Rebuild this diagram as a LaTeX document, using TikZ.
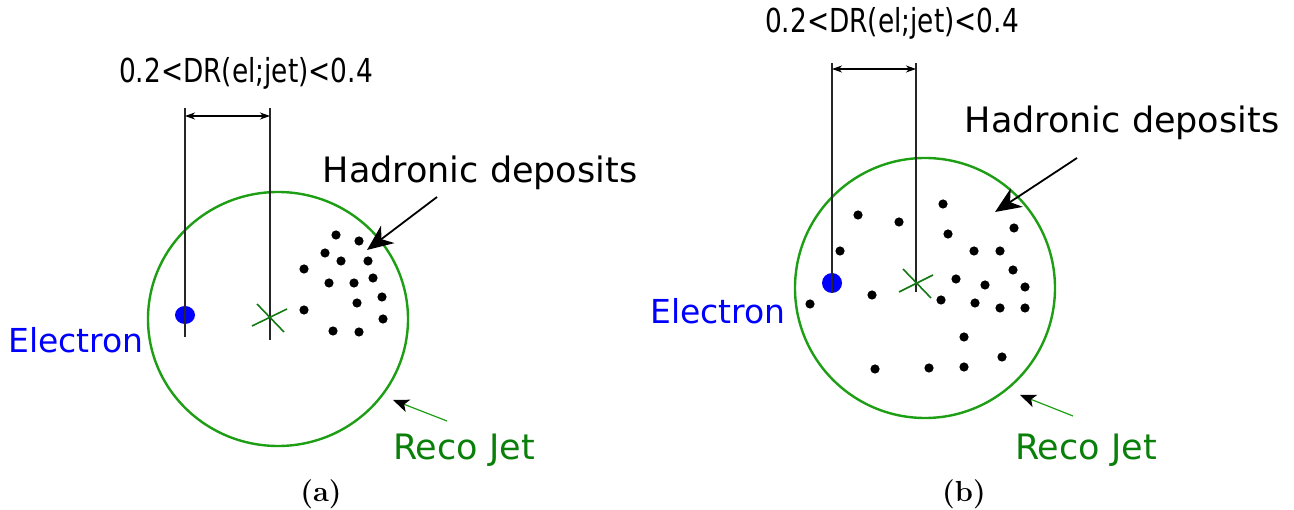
\documentclass[tikz,border=0pt]{standalone}
\usepackage{fontspec}
\usepackage{graphicx}
\newfontfamily\dejavu{DejaVu Sans}
\usetikzlibrary{arrows.meta,positioning}
\definecolor{jetgreen}{RGB}{30,158,20}
\definecolor{recogreen}{RGB}{10,128,10}
\definecolor{crossgreen}{RGB}{20,120,20}
\definecolor{elblue}{RGB}{0,0,255}

\begin{document}
\begin{tikzpicture}[x=1pt,y=-1pt,
    jet/.style={draw=jetgreen,line width=2.4pt},
    guide/.style={black!85,line width=1.1pt},
    dimarrow/.style={black,line width=1.1pt,
      {Stealth[length=10pt,width=7pt,inset=3pt]}-{Stealth[length=10pt,width=7pt,inset=3pt]}},
    pointer/.style={black,line width=1.8pt,-{Stealth[length=26pt,width=22pt,inset=8pt]}},
    recoarrow/.style={jetgreen,line width=1.2pt,-{Stealth[length=16pt,width=13pt,inset=4pt,color=black]}},
    crossmark/.style={crossgreen,line width=1.6pt},
    lbl/.style={font=\dejavu\fontsize{35}{40}\selectfont,anchor=base,inner sep=0pt},
    dimlbl/.style={font=\dejavu\fontsize{33}{38}\selectfont,anchor=base,inner sep=0pt},
    caption/.style={font=\fontsize{29}{34}\selectfont\bfseries,anchor=base,inner sep=0pt}]
  \useasboundingbox (0,0) rectangle (1294,510);

  % ---------- (a) ----------
  \draw[jet] (278,319) ellipse [x radius=130pt, y radius=127pt];
  \coordinate (elA) at (185,315);
  \fill[elblue] (elA) ellipse [x radius=10pt, y radius=9pt];
  % jet axis and electron lines
  \draw[guide] (185,108) -- (185,337);
  \draw[guide] (270,108) -- (270,340);
  \coordinate (dimLA) at (185,116);
  \coordinate (dimRA) at (270,116);
  \draw[dimarrow] (dimLA) -- (dimRA);
  \node[dimlbl] (drA) at (246,83) {\scalebox{0.8}[1]{0.2<DR(el;jet)<0.4}};
  \draw[crossmark] (252,326) -- (287,309) (257,304) -- (284,332);
  % deposits
  \foreach \px/\py in {336/235,359/241,325/253,341/261,368/261,304/269,373/278,
      329/283,354/283,382/297,357/303,304/310,383/319,333/331,359/332}{
    \fill (\px,\py) circle [radius=4.6pt];
  }
  \node[lbl] (hadA) at (480,183) {Hadronic deposits};
  \coordinate (hadTailA) at (437,197);
  \coordinate (hadTipA) at (367,250);
  \draw[pointer] (hadTailA) -- (hadTipA);
  \node[lbl,text=elblue,font=\dejavu\fontsize{33}{38}\selectfont] (elecA) at (76,353) {Electron};
  \node[lbl,text=recogreen] (recoA) at (464,460) {Reco Jet};
  \coordinate (recoTailA) at (447,421);
  \coordinate (recoTipA) at (393,400);
  \draw[recoarrow] (recoTailA) -- (recoTipA);
  \node[caption] (capA) at (321,501) {(a)};

  % ---------- (b) ----------
  \draw[jet] (925,288) circle [radius=130pt];
  \coordinate (elB) at (832,283);
  \fill[elblue] (elB) circle [radius=10pt];
  \draw[guide] (832,63) -- (832,293);
  \draw[guide] (916,63) -- (916,292);
  \coordinate (dimLB) at (832,69);
  \coordinate (dimRB) at (916,69);
  \draw[dimarrow] (dimLB) -- (dimRB);
  \node[dimlbl] (drB) at (892,33) {\scalebox{0.8}[1]{0.2<DR(el;jet)<0.4}};
  \draw[crossmark] (899,292) -- (933,275) (903,269) -- (931,298);
  % deposits
  \foreach \px/\py in {943/204,858/215,899/222,948/234,1014/228,840/251,974/251,
      1000/251,1013/270,956/279,985/285,1025/287,810/304,872/295,941/300,975/303,
      1000/308,1025/308,964/337,1002/357,875/369,929/368,964/367}{
    \fill (\px,\py) circle [radius=4.6pt];
  }
  \node[lbl] (hadB) at (1122,133) {Hadronic deposits};
  \coordinate (hadTailB) at (1077,158);
  \coordinate (hadTipB) at (995,212);
  \draw[pointer] (hadTailB) -- (hadTipB);
  \node[lbl,text=elblue,font=\dejavu\fontsize{33}{38}\selectfont] (elecB) at (718,324) {Electron};
  \node[lbl,text=recogreen] (recoB) at (1086,460) {Reco Jet};
  \coordinate (recoTailB) at (1073,416);
  \coordinate (recoTipB) at (1020,395);
  \draw[recoarrow] (recoTailB) -- (recoTipB);
  \node[caption] (capB) at (964,501) {(b)};
\end{tikzpicture}
\end{document}
